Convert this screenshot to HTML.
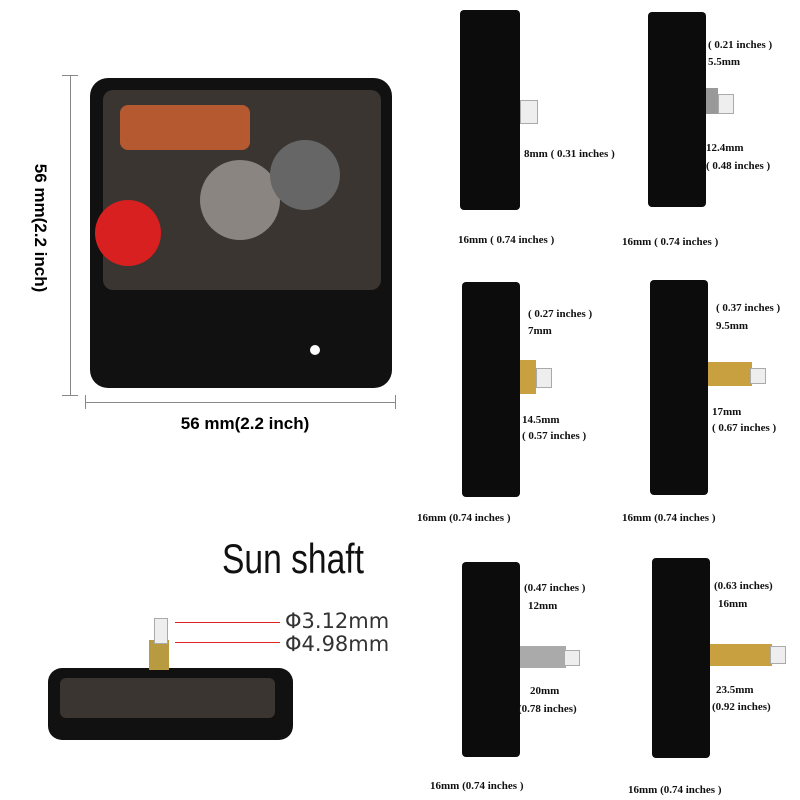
<!DOCTYPE html>
<html><head><meta charset="utf-8"><style>
body{margin:0;width:800px;height:800px;background:#fff;position:relative;overflow:hidden;font-family:"Liberation Serif",serif}
.a{position:absolute}
.t{position:absolute;font-size:11px;font-weight:bold;color:#111;white-space:nowrap}
.blk{position:absolute;background:#0c0c0c;border-radius:4px}
.sh{position:absolute;background:#4a4030}
.vl{position:absolute;border-left:1px solid #888}
.hl{position:absolute;border-top:1px solid #888}
</style></head><body>
<div class="vl" style="left:70px;top:75px;height:320px"></div>
<div class="hl" style="left:62px;top:75px;width:16px"></div>
<div class="hl" style="left:62px;top:395px;width:16px"></div>
<div class="a" style="left:-75px;top:218px;width:230px;text-align:center;transform:rotate(90deg);font:bold 17px 'Liberation Sans',sans-serif">56 mm(2.2 inch)</div>
<div class="hl" style="left:85px;top:402px;width:310px"></div>
<div class="vl" style="left:85px;top:395px;height:14px"></div>
<div class="vl" style="left:395px;top:395px;height:14px"></div>
<div class="a" style="left:140px;top:414px;width:210px;text-align:center;font:bold 17px 'Liberation Sans',sans-serif">56 mm(2.2 inch)</div>
<div class="a" style="left:90px;top:78px;width:302px;height:310px;background:#111;border-radius:18px"></div>
<div class="a" style="left:103px;top:90px;width:278px;height:200px;background:#3a3530;border-radius:10px"></div>
<div class="a" style="left:120px;top:105px;width:130px;height:45px;background:#b55a30;border-radius:8px"></div>
<div class="a" style="left:200px;top:160px;width:80px;height:80px;background:#8a8580;border-radius:50%"></div>
<div class="a" style="left:270px;top:140px;width:70px;height:70px;background:#666;border-radius:50%"></div>
<div class="a" style="left:95px;top:200px;width:66px;height:66px;background:#d82020;border-radius:50%"></div>
<div class="a" style="left:310px;top:345px;width:10px;height:10px;background:#fff;border-radius:50%"></div>
<div class="a" style="left:222px;top:535px;font:42px 'Liberation Sans',sans-serif;color:#111;transform:scaleX(0.8);transform-origin:0 0;white-space:nowrap">Sun shaft</div>
<div class="a" style="left:48px;top:668px;width:245px;height:72px;background:#111;border-radius:14px"></div>
<div class="a" style="left:60px;top:678px;width:215px;height:40px;background:#3a3530;border-radius:6px"></div>
<div class="a" style="left:149px;top:640px;width:20px;height:30px;background:#b89a40"></div>
<div class="a" style="left:154px;top:618px;width:12px;height:24px;background:#eee;border:1px solid #aaa"></div>
<div class="hl" style="left:175px;top:622px;width:105px;border-color:#d22"></div>
<div class="hl" style="left:175px;top:642px;width:105px;border-color:#d22"></div>
<div class="a" style="left:285px;top:609px;font:21px 'DejaVu Sans',sans-serif;color:#333">Φ3.12mm</div>
<div class="a" style="left:285px;top:632px;font:21px 'DejaVu Sans',sans-serif;color:#333">Φ4.98mm</div>
<div class="blk" style="left:460px;top:10px;width:60px;height:200px"></div>
<div class="a" style="left:520px;top:100px;width:16px;height:22px;background:#eee;border:1px solid #aaa"></div>
<div class="t" style="left:524px;top:148px">8mm ( 0.31 inches )</div>
<div class="t" style="left:458px;top:234px">16mm ( 0.74 inches )</div>
<div class="blk" style="left:648px;top:12px;width:58px;height:195px"></div>
<div class="sh" style="left:706px;top:88px;width:12px;height:26px;background:#999"></div>
<div class="a" style="left:718px;top:94px;width:14px;height:18px;background:#eee;border:1px solid #aaa"></div>
<div class="t" style="left:708px;top:39px">( 0.21 inches )</div>
<div class="t" style="left:708px;top:56px">5.5mm</div>
<div class="t" style="left:706px;top:142px">12.4mm</div>
<div class="t" style="left:706px;top:160px">( 0.48 inches )</div>
<div class="t" style="left:622px;top:236px">16mm ( 0.74 inches )</div>
<div class="blk" style="left:462px;top:282px;width:58px;height:215px"></div>
<div class="sh" style="left:520px;top:360px;width:16px;height:34px;background:#c8a040"></div>
<div class="a" style="left:536px;top:368px;width:14px;height:18px;background:#eee;border:1px solid #aaa"></div>
<div class="t" style="left:528px;top:308px">( 0.27 inches )</div>
<div class="t" style="left:528px;top:325px">7mm</div>
<div class="t" style="left:522px;top:414px">14.5mm</div>
<div class="t" style="left:522px;top:430px">( 0.57 inches )</div>
<div class="t" style="left:417px;top:512px">16mm (0.74 inches )</div>
<div class="blk" style="left:650px;top:280px;width:58px;height:215px"></div>
<div class="sh" style="left:708px;top:362px;width:44px;height:24px;background:#c8a040"></div>
<div class="a" style="left:750px;top:368px;width:14px;height:14px;background:#eee;border:1px solid #aaa"></div>
<div class="t" style="left:716px;top:302px">( 0.37 inches )</div>
<div class="t" style="left:716px;top:320px">9.5mm</div>
<div class="t" style="left:712px;top:406px">17mm</div>
<div class="t" style="left:712px;top:422px">( 0.67 inches )</div>
<div class="t" style="left:622px;top:512px">16mm (0.74 inches )</div>
<div class="blk" style="left:462px;top:562px;width:58px;height:195px"></div>
<div class="sh" style="left:520px;top:646px;width:46px;height:22px;background:#aaa"></div>
<div class="a" style="left:564px;top:650px;width:14px;height:14px;background:#eee;border:1px solid #aaa"></div>
<div class="t" style="left:524px;top:582px">(0.47 inches )</div>
<div class="t" style="left:528px;top:600px">12mm</div>
<div class="t" style="left:530px;top:685px">20mm</div>
<div class="t" style="left:518px;top:703px">(0.78 inches)</div>
<div class="t" style="left:430px;top:780px">16mm (0.74 inches )</div>
<div class="blk" style="left:652px;top:558px;width:58px;height:200px"></div>
<div class="sh" style="left:710px;top:644px;width:62px;height:22px;background:#c8a040"></div>
<div class="a" style="left:770px;top:646px;width:14px;height:16px;background:#eee;border:1px solid #aaa"></div>
<div class="t" style="left:714px;top:580px">(0.63 inches)</div>
<div class="t" style="left:718px;top:598px">16mm</div>
<div class="t" style="left:716px;top:684px">23.5mm</div>
<div class="t" style="left:712px;top:701px">(0.92 inches)</div>
<div class="t" style="left:628px;top:784px">16mm (0.74 inches )</div>
</body></html>
